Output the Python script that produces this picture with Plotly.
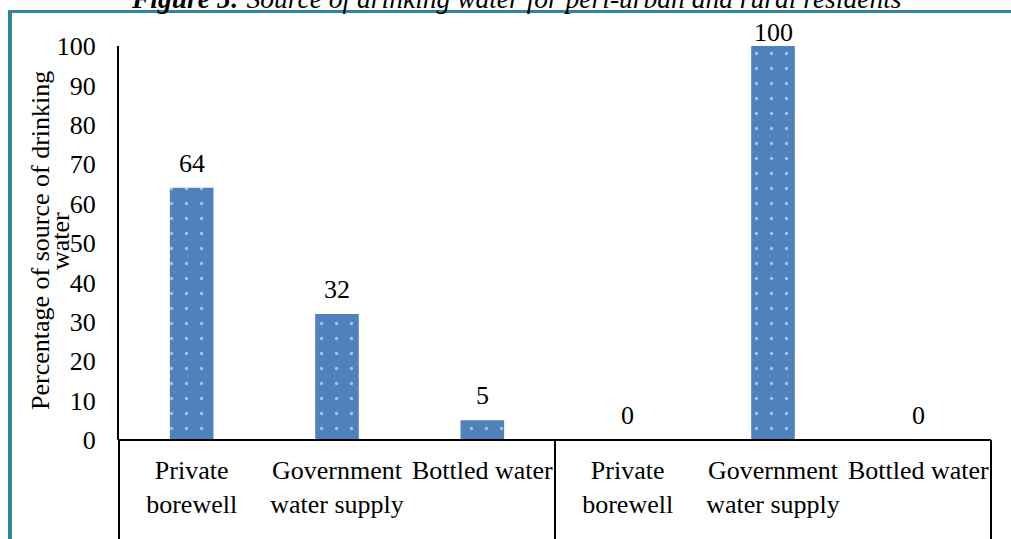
import plotly.graph_objects as go

# Drinking-water sources, peri-urban group followed by rural group
sources = ["Private<br>borewell", "Government<br>water supply", "Bottled water"]
peri_urban = [64, 32, 5]
rural = [0, 100, 0]
y_ticks = [0, 10, 20, 30, 40, 50, 60, 70, 80, 90, 100]

labels = sources + sources
values = peri_urban + rural
positions = list(range(len(values)))

FONT = "Times New Roman, Liberation Serif, serif"
BAR = "#4F81BD"
TEAL = "#31849B"

W, H = 1011, 539
L, R, T, B = 119, 20, 46, 99
pw, ph = W - L - R, H - T - B
Y_MAX = 100


def px_x(p):
    return (p - L) / pw


def px_y(p):
    return (H - B - p) / ph


fig = go.Figure()
fig.add_trace(go.Bar(
    x=positions, y=values, width=0.3,
    marker=dict(color=BAR, line=dict(width=0),
                pattern=dict(shape=".", fgcolor="white", bgcolor=BAR,
                             size=15, solidity=0.04)),
    hoverinfo="skip", showlegend=False,
))

# value labels above each bar, kept below the title band
for xv, v in zip(positions, values):
    top_px = T + (Y_MAX - v) / Y_MAX * ph
    shift = min(8, top_px - 18 - 31)
    fig.add_annotation(x=xv, y=v, text=str(v), showarrow=False,
                       yanchor="bottom", yshift=shift,
                       font=dict(family=FONT, size=26, color="black"))

# title line
fig.add_annotation(
    xref="paper", yref="paper", x=px_x(516), y=px_y(-1),
    xanchor="center", yanchor="middle", showarrow=False,
    text="<b><i>Figure 5:</i></b><i> Source of drinking water for peri-urban and rural residents</i>",
    font=dict(family=FONT, size=27.5, color="black"),
)

# y-axis title in two lines
fig.add_annotation(xref="paper", yref="paper", x=px_x(40), y=px_y(241),
                   text="Percentage of source of drinking", textangle=-90,
                   showarrow=False, xanchor="center", yanchor="middle",
                   font=dict(family=FONT, size=26, color="black"))
fig.add_annotation(xref="paper", yref="paper", x=px_x(60), y=px_y(241),
                   text="water", textangle=-90,
                   showarrow=False, xanchor="center", yanchor="middle",
                   font=dict(family=FONT, size=26, color="black"))

n = len(values)
half = len(sources) / n
# category group separators below the axis
for fx in (0.0, half, 1.0):
    fig.add_shape(type="line", xref="paper", yref="paper",
                  x0=fx, x1=fx, y0=0, y1=px_y(H + 5),
                  line=dict(color="black", width=2))
fig.add_shape(type="line", xref="paper", yref="paper",
              x0=0, x1=1, y0=0, y1=0, line=dict(color="black", width=2))

# frame around the figure
fig.add_shape(type="line", xref="paper", yref="paper",
              x0=px_x(10), x1=px_x(10), y0=px_y(10), y1=px_y(H + 5),
              line=dict(color=TEAL, width=4))
fig.add_shape(type="line", xref="paper", yref="paper",
              x0=px_x(8), x1=px_x(W + 5), y0=px_y(11.5), y1=px_y(11.5),
              line=dict(color=TEAL, width=3))

fig.update_layout(
    width=W, height=H,
    margin=dict(l=L, r=R, t=T, b=B),
    paper_bgcolor="white", plot_bgcolor="white",
    font=dict(family=FONT, size=26, color="black"),
    xaxis=dict(range=[-0.5, n - 0.5], tickvals=positions, ticktext=labels,
               showline=False, showgrid=False, zeroline=False, ticks="",
               tickangle=0, ticklabelstandoff=12,
               tickfont=dict(family=FONT, size=26, color="black")),
    yaxis=dict(range=[0, Y_MAX], tickvals=y_ticks, showgrid=False,
               zeroline=False, showline=True, linecolor="black", linewidth=2,
               ticks="", ticklabelstandoff=16,
               tickfont=dict(family=FONT, size=26, color="black")),
)

fig.write_html("out.html")
